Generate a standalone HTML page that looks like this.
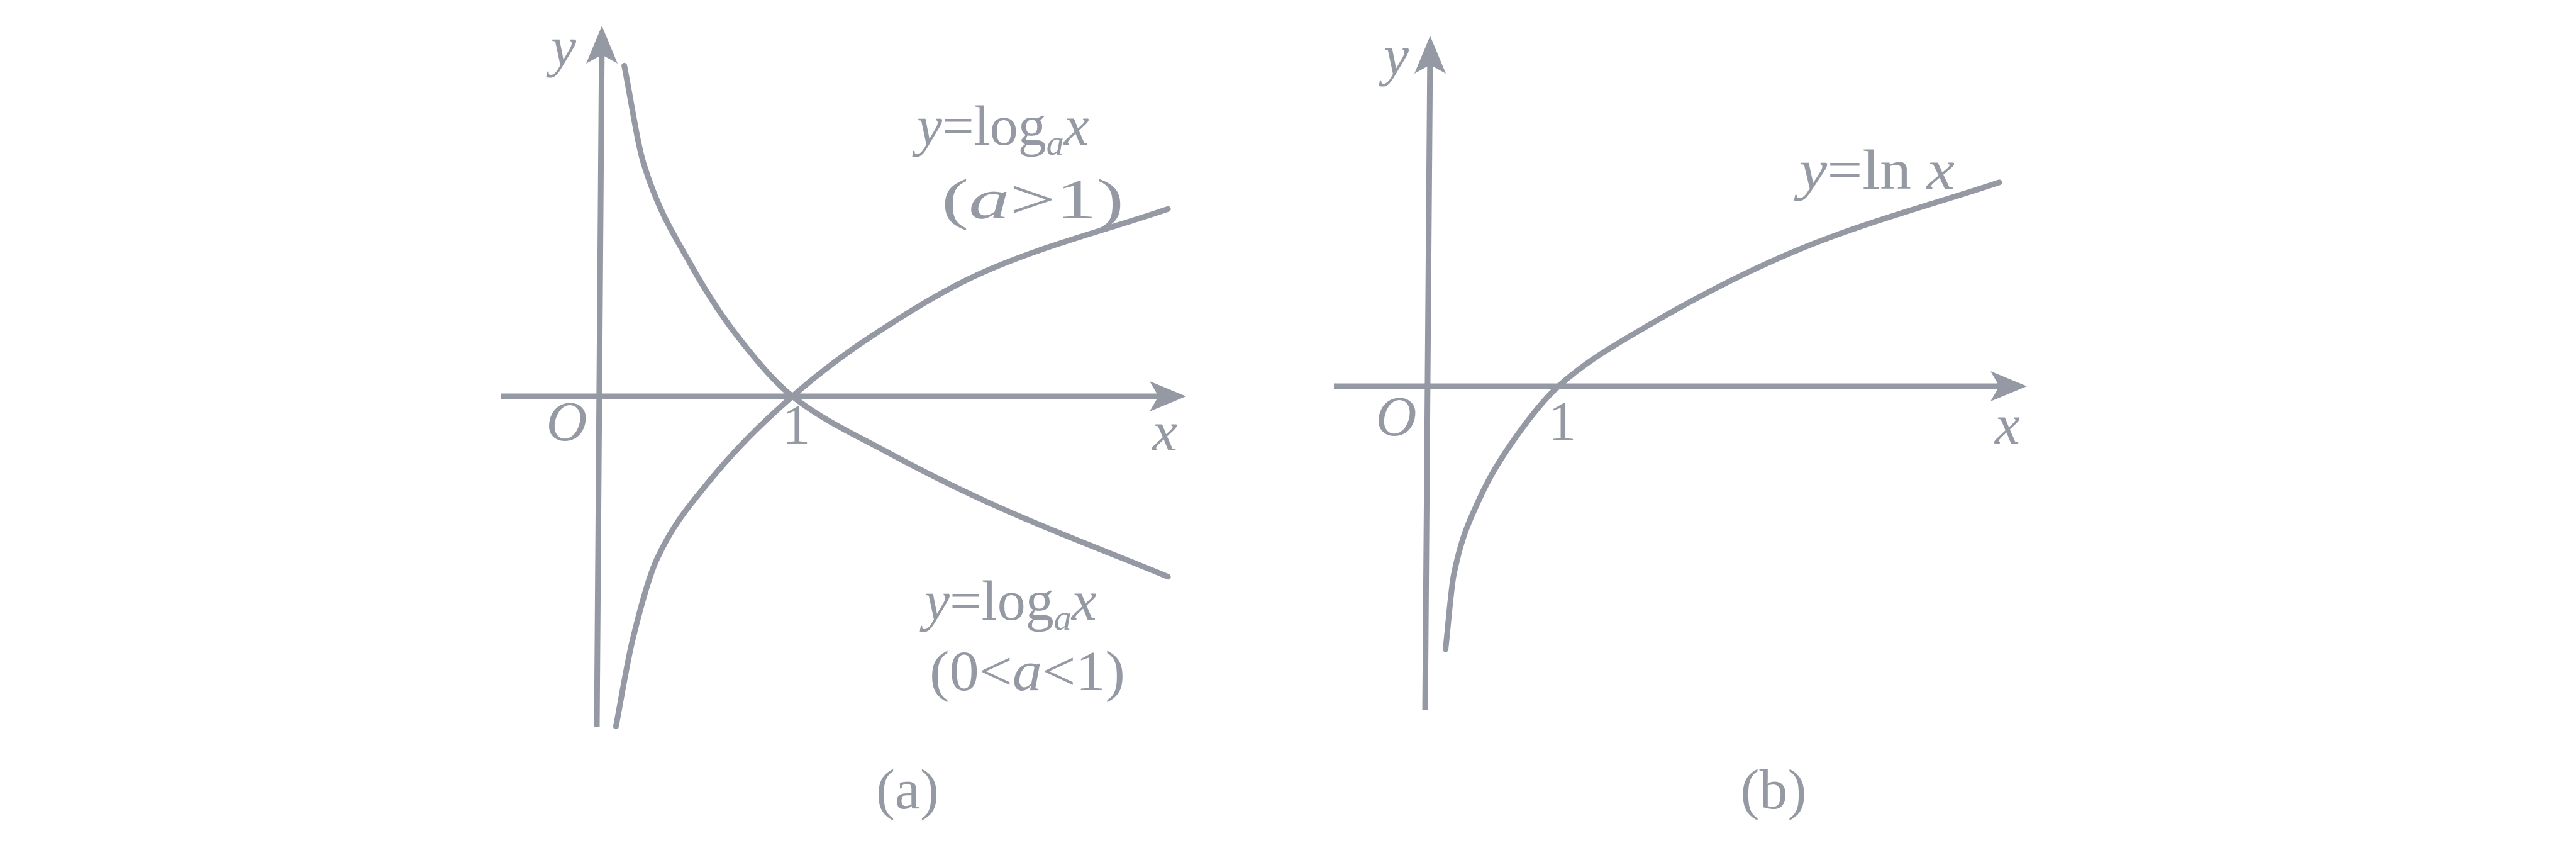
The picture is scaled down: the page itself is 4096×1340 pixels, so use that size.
<!DOCTYPE html>
<html><head><meta charset="utf-8"><style>
html,body{margin:0;padding:0;background:#fff}
svg{display:block}
text{font-family:"Liberation Serif",serif;fill:#9499a3;font-size:90px}
.it{font-style:italic}
</style></head><body>
<svg width="4096" height="1340" viewBox="0 0 4096 1340">
<g id="pa"></g>
<g id="pb"></g>
</svg>
<script>
// Panel (a) data (chart units)
const aUpX=[0.086,0.171,0.299,0.554,1,1.405,2.0,2.945];
const aUpY=[-1.709,-1.266,-0.841,-0.458,0,0.308,0.648,0.97];
const aDnX=[0.129,0.231,0.469,0.724,1,1.49,2.0,2.945];
const aDnY=[1.712,1.20,0.69,0.30,0,-0.288,-0.543,-0.934];
// Panel (b) data
const bX=[0.137,0.2,0.388,0.64,1,1.644,2.90,4.37];
const bY=[-2.01,-1.44,-0.878,-0.438,0,0.44,1.07,1.558];
const tickLabels=["1"];

const NS="http://www.w3.org/2000/svg";
const COL="#9499a3";
function mk(tag,attrs,parent){const e=document.createElementNS(NS,tag);for(const k in attrs)e.setAttribute(k,attrs[k]);parent.appendChild(e);return e;}
// monotone cubic (Fritsch-Carlson) in pixel space, parameterized by x
function smooth(P){const n=P.length,h=[],d=[],m=[];
 for(let i=0;i<n-1;i++){h[i]=P[i+1][0]-P[i][0];d[i]=(P[i+1][1]-P[i][1])/h[i];}
 m[0]=d[0];m[n-1]=d[n-2];
 for(let i=1;i<n-1;i++){if(d[i-1]*d[i]<=0)m[i]=0;else{const w1=2*h[i]+h[i-1],w2=h[i]+2*h[i-1];m[i]=(w1+w2)/(w1/d[i-1]+w2/d[i]);}}
 let s=`M${P[0][0]},${P[0][1]}`;
 for(let i=0;i<n-1;i++){const a=h[i]/3;s+=` C${P[i][0]+a},${P[i][1]+m[i]*a} ${P[i+1][0]-a},${P[i+1][1]-m[i+1]*a} ${P[i+1][0]},${P[i+1][1]}`;}
 return s;}
function txt(g,x,y,s,cls,anchor,name,len){const t=mk('text',{x:x,y:y,'text-anchor':anchor||'start'},g);if(cls)t.setAttribute('class',cls);
if(len){t.setAttribute('textLength',len);t.setAttribute('lengthAdjust','spacingAndGlyphs');}
t.innerHTML=s;


return t;}

function panel(g,o){
  const sx=v=>o.x0+v*o.u, sy=v=>o.y0-v*o.u;
  const xa=mk('line',{x1:o.xl,y1:o.y0,x2:o.xr-20,y2:o.y0,stroke:COL,'stroke-width':9},g);
  
  
  const xh=mk('path',{d:`M${o.xr},${o.y0} L${o.xr-58},${o.y0-24} L${o.xr-44},${o.y0} L${o.xr-58},${o.y0+24}Z`,fill:COL},g);
  
  
  const ya=mk('line',{x1:o.x0+4,y1:o.yt+20,x2:o.x0-4,y2:o.yb,stroke:COL,'stroke-width':9},g);
  
  
  const yh=mk('path',{d:`M${o.x0+4},${o.yt} L${o.x0-21},${o.yt+60} L${o.x0+4},${o.yt+46} L${o.x0+29},${o.yt+60}Z`,fill:COL},g);
  
  
  o.series.forEach(s=>{
    const pts=s.xs.map((v,i)=>[sx(v),sy(s.ys[i])]);
    const p=mk('path',{d:smooth(pts),fill:'none',stroke:COL,'stroke-width':9,'stroke-linecap':'round'},g);
    
    
  });
  txt(g,o.lab.y[0],o.lab.y[1],'y','it','middle','y-axis-title');
  txt(g,o.lab.x[0],o.lab.x[1],'x','it','middle','x-axis-title');
  txt(g,o.lab.o[0],o.lab.o[1],'O','it','middle','origin-label');
  txt(g,sx(1)+6,o.lab.one,tickLabels[0],'','middle','x-tick-1');
}
const ga=document.getElementById('pa'), gb=document.getElementById('pb');
panel(ga,{x0:953,y0:630,u:307,xl:797,xr:1886,yt:41,yb:1155,
 lab:{y:[896,104],x:[1852,716],o:[901,700],one:705},
 series:[{xs:aUpX,ys:aUpY,name:'curve-log-a-greater-1'},{xs:aDnX,ys:aDnY,name:'curve-log-a-less-1'}]});
panel(gb,{x0:2270,y0:614,u:208,xl:2121,xr:3223,yt:57,yb:1128,
 lab:{y:[2220,118],x:[3192,705],o:[2220,692],one:700},
 series:[{xs:bX,ys:bY,name:'curve-ln-x'}]});
txt(ga,1458,230,'<tspan class="it">y</tspan>=log<tspan font-size="56" dy="16" class="it">a</tspan><tspan dy="-16" class="it">x</tspan>','','start','label-log-a-gt-1');
txt(ga,1497,347,'(<tspan class="it">a</tspan>&gt;1)','','start','condition-a-gt-1',290);
txt(ga,1470,985,'<tspan class="it">y</tspan>=log<tspan font-size="56" dy="16" class="it">a</tspan><tspan dy="-16" class="it">x</tspan>','','start','label-log-a-lt-1');
txt(ga,1478,1097,'(0&lt;<tspan class="it">a</tspan>&lt;1)','','start','condition-a-lt-1',311);
txt(ga,1443,1285,'(a)','','middle','caption-a');
txt(gb,2861,300,'<tspan class="it">y</tspan>=ln <tspan class="it">x</tspan>','','start','label-ln-x',247);
txt(gb,2820,1285,'(b)','','middle','caption-b');
</script>
</body></html>
